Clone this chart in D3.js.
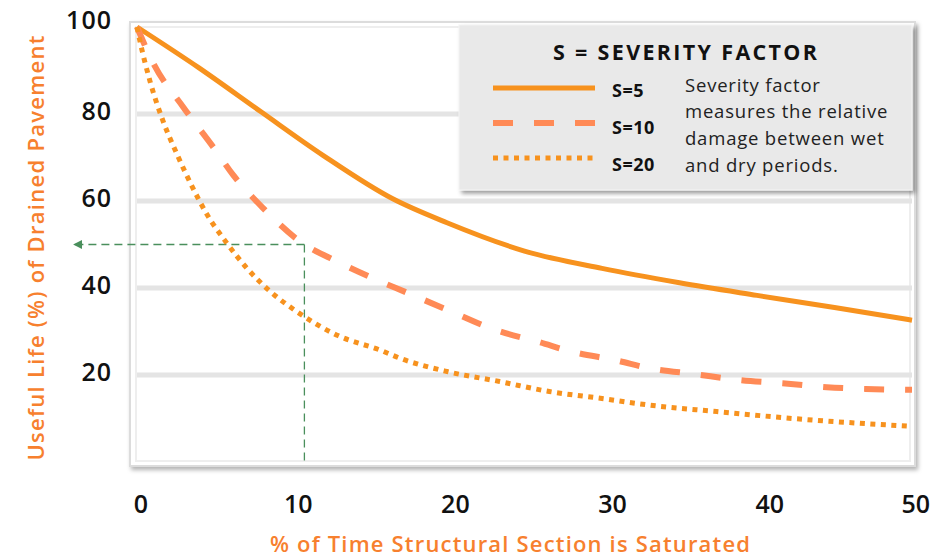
<!DOCTYPE html>
<html>
<head>
<meta charset="utf-8">
<script src="https://cdn.jsdelivr.net/npm/d3@7"></script>
<style>
  html, body { margin: 0; padding: 0; background: #ffffff; }
  svg { display: block; }
</style>
</head>
<body>
<svg id="chart" width="931" height="558"></svg>
<script>
// ---------- DATA ----------
const xTicks = [0, 10, 20, 30, 40, 50];
const yTicks = [20, 40, 60, 80, 100];
const seriesNames = ["S=5", "S=10", "S=20"];

const s5 = [[0,100],[4,90.6],[8,80.5],[12,70.5],[16.5,60.5],[20,55],[25,48.5],[30,44.5],[35,41.2],[40,38.3],[45,35.5],[50,32.6]];
const s10 = [[0,100],[1,92],[3,81.5],[5,72],[6.2,66],[8.1,58.5],[10.8,50],[12.5,46.8],[15,42.6],[17.5,38.8],[20,35],[23,30.5],[26,27.5],[28,25.4],[31,23.3],[33,21.6],[36,20.2],[39,18.8],[42,18],[44.5,17.2],[47,16.8],[50,16.6]];
const s20 = [[0,100],[0.2,96.6],[0.85,87.4],[1.7,78.2],[2.6,70.6],[3.6,63],[4.5,57],[5.8,50.3],[7.1,44.5],[8.6,39.2],[10.3,34.6],[13,29],[15.7,25.7],[17,23.8],[20,20.8],[23.4,18.5],[26.6,16.2],[30,14.6],[33,13.1],[37.4,11.6],[43,9.8],[50,8.2]];

const refPoint = [10.8, 50];   // green guide: S=10 reaches 50 % useful life

const legendTitle = "S = SEVERITY FACTOR";
const legendNote = ["Severity factor", "measures the relative", "damage between wet", "and dry periods."];
const xTitle = "% of Time Structural Section is Saturated";
const yTitle = "Useful Life (%) of Drained Pavement";

// ---------- LAYOUT ----------
const svg = d3.select("#chart");
const x = d3.scaleLinear().domain([0, 50]).range([137, 912]);
const y = d3.scaleLinear().domain([0, 100]).range([462, 27]);
const xLab = d3.scaleLinear().domain([0, 50]).range([141, 927]);

const defs = svg.append("defs");
const sh = defs.append("filter").attr("id", "shadow").attr("x", "-5%").attr("y", "-5%").attr("width", "115%").attr("height", "120%");
sh.append("feDropShadow").attr("dx", 2).attr("dy", 3).attr("stdDeviation", 2)
  .attr("flood-color", "#000").attr("flood-opacity", 0.3);
const sh2 = defs.append("filter").attr("id", "shadow2").attr("x", "-5%").attr("y", "-5%").attr("width", "115%").attr("height", "120%");
sh2.append("feDropShadow").attr("dx", 3).attr("dy", 3).attr("stdDeviation", 2)
  .attr("flood-color", "#000").attr("flood-opacity", 0.4);

// plot frame
svg.append("rect").attr("x", 130).attr("y", 22).attr("width", 785).attr("height", 444)
  .attr("fill", "#fff").attr("stroke", "#dcdcdc").attr("stroke-width", 2)
  .attr("filter", "url(#shadow)");
svg.append("rect").attr("x", 136).attr("y", 27).attr("width", 774).attr("height", 434)
  .attr("fill", "none").attr("stroke", "#eeeeee").attr("stroke-width", 2);

// gridlines
svg.append("g").selectAll("line").data(yTicks.filter(d => d < 100)).join("line")
  .attr("x1", x(0)).attr("x2", x(50))
  .attr("y1", d => y(d)).attr("y2", d => y(d))
  .attr("stroke", "#e4e4e4").attr("stroke-width", 5);

// tick labels
const font = "'Open Sans', 'Noto Sans', sans-serif";
svg.append("g").selectAll("text").data(yTicks).join("text")
  .attr("x", 112).attr("y", d => y(d) - (d === 100 ? 8 : 4))
  .attr("text-anchor", "end").attr("dominant-baseline", "central")
  .attr("font-family", font).attr("font-weight", 600).attr("font-size", 25)
  .attr("letter-spacing", 1).attr("fill", "#111").text(d => d);
svg.append("g").selectAll("text").data(xTicks).join("text")
  .attr("x", d => d === 50 ? 930 : xLab(d)).attr("y", 503)
  .attr("text-anchor", d => d === 50 ? "end" : "middle").attr("dominant-baseline", "central")
  .attr("font-family", font).attr("font-weight", 600).attr("font-size", 25)
  .attr("fill", "#111").text(d => d);

// axis titles
svg.append("text").attr("x", 510).attr("y", 543)
  .attr("text-anchor", "middle").attr("dominant-baseline", "central")
  .attr("font-family", font).attr("font-weight", 600).attr("font-size", 22)
  .attr("textLength", 480).attr("lengthAdjust", "spacing")
  .attr("fill", "#f7802e").text(xTitle);
svg.append("text").attr("transform", "translate(35,248) rotate(-90)")
  .attr("text-anchor", "middle").attr("dominant-baseline", "central")
  .attr("font-family", font).attr("font-weight", 600).attr("font-size", 22)
  .attr("textLength", 425).attr("lengthAdjust", "spacing")
  .attr("fill", "#f7802e").text(yTitle);

// green guide lines
const green = "#4a8f5c";
defs.append("marker").attr("id", "arrow").attr("viewBox", "0 0 10 10")
  .attr("refX", 9).attr("refY", 5).attr("markerWidth", 9).attr("markerHeight", 9)
  .attr("markerUnits", "userSpaceOnUse").attr("orient", "auto")
  .append("path").attr("d", "M0,0 L10,5 L0,10 Z").attr("fill", green);
svg.append("line").attr("x1", x(refPoint[0])).attr("y1", y(refPoint[1]))
  .attr("x2", 74).attr("y2", y(refPoint[1]))
  .attr("stroke", green).attr("stroke-width", 1.3).attr("stroke-dasharray", "8,5")
  .attr("marker-end", "url(#arrow)");
svg.append("line").attr("x1", x(refPoint[0])).attr("y1", y(refPoint[1]))
  .attr("x2", x(refPoint[0])).attr("y2", y(0))
  .attr("stroke", green).attr("stroke-width", 1.3).attr("stroke-dasharray", "8,5");

// series
const styles = [
  { color: "#f7921e", width: 5, dash: null },
  { color: "#ff8a56", width: 6, dash: "20,21" },
  { color: "#f7921e", width: 5, dash: "5,5.5" }
];
const line = d3.line().x(d => x(d[0])).y(d => y(d[1])).curve(d3.curveMonotoneX);
const allSeries = [s5, s10, s20];
svg.append("g").selectAll("path").data(allSeries).join("path")
  .attr("d", d => line(d))
  .attr("fill", "none")
  .attr("stroke", (d, i) => styles[i].color)
  .attr("stroke-width", (d, i) => styles[i].width)
  .attr("stroke-dasharray", (d, i) => styles[i].dash)
  .attr("stroke-linejoin", "round");

// legend
const lg = svg.append("g");
lg.append("rect").attr("x", 459).attr("y", 25).attr("width", 453).attr("height", 165)
  .attr("fill", "#e9e9e9").attr("stroke", "#f4f4f4").attr("stroke-width", 1)
  .attr("filter", "url(#shadow2)");
lg.append("text").attr("x", 685).attr("y", 51)
  .attr("text-anchor", "middle").attr("dominant-baseline", "central")
  .attr("font-family", font).attr("font-weight", 700).attr("font-size", 21.5)
  .attr("textLength", 264).attr("lengthAdjust", "spacing")
  .attr("fill", "#111").text(legendTitle);
const rowY = [88, 123, 158];
const labY = [90, 127, 164];
lg.selectAll("line.key").data(seriesNames).join("line").attr("class", "key")
  .attr("x1", 493).attr("x2", 595)
  .attr("y1", (d, i) => rowY[i]).attr("y2", (d, i) => rowY[i])
  .attr("stroke", (d, i) => styles[i].color)
  .attr("stroke-width", (d, i) => styles[i].width)
  .attr("stroke-dasharray", (d, i) => styles[i].dash);
lg.selectAll("text.lab").data(seriesNames).join("text").attr("class", "lab")
  .attr("x", 612).attr("y", (d, i) => labY[i])
  .attr("dominant-baseline", "central")
  .attr("font-family", font).attr("font-weight", 700).attr("font-size", 18)
  .attr("letter-spacing", 0.5).attr("fill", "#111").text(d => d);
lg.selectAll("text.note").data(legendNote).join("text").attr("class", "note")
  .attr("x", 685).attr("y", (d, i) => 84 + i * 26.7)
  .attr("dominant-baseline", "central")
  .attr("font-family", font).attr("font-weight", 400).attr("font-size", 18.5)
  .attr("letter-spacing", 0.8).attr("fill", "#222").text(d => d);
</script>
</body>
</html>
